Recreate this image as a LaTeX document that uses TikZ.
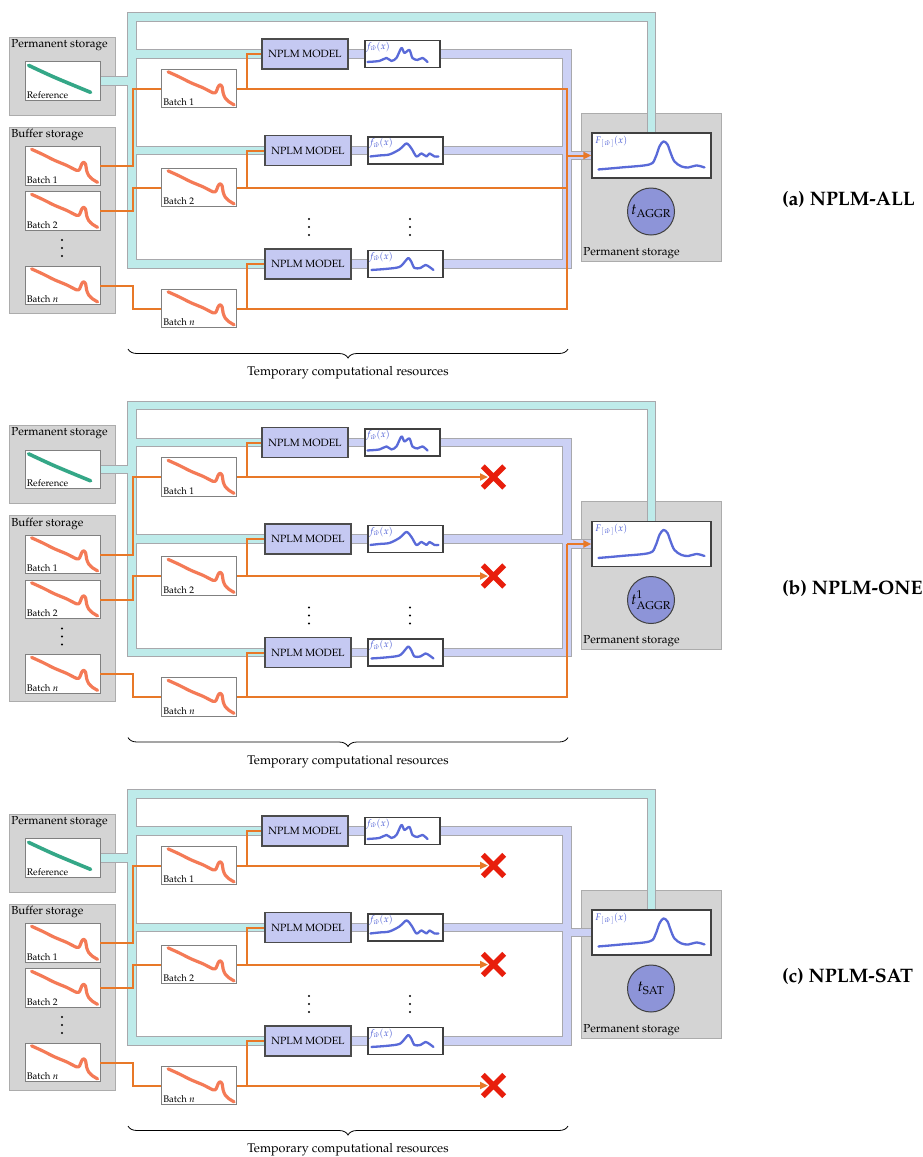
\documentclass[tikz,border=0pt]{standalone}
\usepackage[T1]{fontenc}
\usepackage{mathpazo}
\usetikzlibrary{arrows.meta,decorations.pathreplacing}
\pgfdeclarelayer{lstore}\pgfdeclarelayer{ledge}\pgfdeclarelayer{lfill}
\pgfsetlayers{lstore,ledge,lfill,main}

\definecolor{storegray}{RGB}{212,212,212}
\definecolor{storeline}{RGB}{172,172,172}
\definecolor{cyanp}{RGB}{190,235,234}
\definecolor{lavp}{RGB}{204,209,245}
\definecolor{pipeedge}{RGB}{168,168,172}
\definecolor{modelc}{RGB}{197,201,242}
\definecolor{circc}{RGB}{141,148,216}
\definecolor{orangel}{RGB}{232,120,40}
\definecolor{batchc}{RGB}{243,108,68}
\definecolor{refc}{RGB}{30,158,122}
\definecolor{fcurve}{RGB}{72,90,212}
\definecolor{xred}{RGB}{232,30,12}

\tikzset{
  stbox/.style={draw=storeline, fill=storegray, line width=0.8pt, inner sep=0, rectangle},
  wbox/.style={draw=black!50, fill=white, line width=0.8pt, minimum width=75pt, minimum height=38.5pt, inner sep=0},
  modelbox/.style={draw=black!70, fill=modelc, line width=1.1pt, minimum width=86pt, minimum height=30pt, inner sep=0, font=\fontsize{10.5}{12}\selectfont},
  fwbox/.style={draw=black!75, fill=white, line width=1.1pt, minimum width=75pt, minimum height=27pt, inner sep=0},
  bigfbox/.style={draw=black!75, fill=white, line width=1.1pt, minimum width=119pt, minimum height=45pt, inner sep=0},
  slbl/.style={inner sep=2.5pt, font=\fontsize{11.6}{13}\selectfont},
  brlbl/.style={inner sep=2pt, font=\fontsize{12.6}{14}\selectfont},
  blbl/.style={inner sep=2pt, font=\fontsize{9.6}{11}\selectfont},
  flbl/.style={inner sep=1.5pt, text=fcurve, font=\fontsize{9.5}{11}\selectfont},
  dotc/.style={circle, fill=black, inner sep=0, minimum size=2.4pt},
  titlelbl/.style={inner sep=0, anchor=west, font=\fontsize{19.5}{22}\selectfont\bfseries},
  pedge/.style={draw=pipeedge, line width=9.5pt},
  pcyan/.style={draw=cyanp, line width=7.5pt},
  plav/.style={draw=lavp, line width=7.5pt},
  oline/.style={draw=orangel, line width=2pt},
  oarrow/.style={draw=orangel, line width=2pt, -{Triangle[length=8pt,width=7pt]}},
  xmarkbox/.style={minimum size=21pt, inner sep=0},
  xline/.style={draw=xred, line width=5.5pt},
  bcurve/.style={draw=batchc, line width=3.2pt, line cap=round, line join=round, opacity=0.9},
  rcurve/.style={draw=refc, line width=3.6pt, line cap=round, opacity=0.9},
  fcurvest/.style={draw=fcurve, line width=2.3pt, line cap=round, line join=round, opacity=0.9},
  circnode/.style={circle, draw=black!75, fill=circc, line width=1pt, minimum size=47pt, inner sep=0, font=\fontsize{15}{18}\selectfont},
}

\newcommand\BatchCurve[1]{%
  \draw[bcurve, shift={(#1.north west)}] plot[smooth, tension=0.5] coordinates
  {(7,3) (18,8) (30,14) (42,19) (52,24) (55,23) (57,18) (59,16) (61,18) (62,24) (64,29) (68,33) (73,36)};}

\newcommand\VDots[3]{%
  \node[dotc] (#1a) at (#2,#3) {};
  \node[dotc] (#1b) at (#2,#3+8) {};
  \node[dotc] (#1c) at (#2,#3+16) {};}

\newcommand\PanelDraw[5]{%
\begin{scope}[shift={(0,#2)}]
  % storage areas
  \begin{pgfonlayer}{lstore}
    \node[stbox, minimum width=106pt, minimum height=78pt] (#1-ps) at (62,76) {};
    \node[stbox, minimum width=106pt, minimum height=186pt] (#1-bs) at (62,220) {};
    \node[stbox, minimum width=140pt, minimum height=148pt] (#1-rs) at (651,187) {};
  \end{pgfonlayer}
  \node[slbl, anchor=north west] (#1-pst) at (#1-ps.north west) {Permanent storage};
  \node[slbl, anchor=north west] (#1-bst) at (#1-bs.north west) {Buffer storage};
  \node[slbl, anchor=south west] (#1-rst) at (#1-rs.south west) {Permanent storage};
  % boxes
  \node[wbox] (#1-ref) at (62.5,81) {};
  \node[wbox] (#1-b1) at (62.5,166) {};
  \node[wbox] (#1-b2) at (62.5,211) {};
  \node[wbox] (#1-bn) at (62.5,285.5) {};
  \VDots{#1-bd}{62}{240}
  \node[wbox] (#1-t1) at (199,88.5) {};
  \node[wbox] (#1-t2) at (199,187.5) {};
  \node[wbox] (#1-tn) at (199,308.5) {};
  \node[modelbox] (#1-m1) at (305,54) {NPLM MODEL};
  \node[modelbox] (#1-m2) at (308,150.5) {NPLM MODEL};
  \node[modelbox] (#1-m3) at (308,264) {NPLM MODEL};
  \VDots{#1-md}{309}{219}
  \node[fwbox] (#1-f1) at (402.5,54) {};
  \node[fwbox] (#1-f2) at (405.5,150.5) {};
  \node[fwbox] (#1-f3) at (405.5,264) {};
  \VDots{#1-fd}{410}{219}
  \node[bigfbox] (#1-F) at (651.5,155.5) {};
  \node[circnode] (#1-tc) at (651,211.5) {#4};
  % box contents
  \draw[rcurve, shift={(#1-ref.north west)}] plot[smooth] coordinates {(4,4) (30,16) (66,31)};
  \node[blbl, anchor=south west] (#1-reft) at (#1-ref.south west) {Reference};
  \BatchCurve{#1-b1}\BatchCurve{#1-b2}\BatchCurve{#1-bn}
  \BatchCurve{#1-t1}\BatchCurve{#1-t2}\BatchCurve{#1-tn}
  \node[blbl, anchor=south west] (#1-b1t) at (#1-b1.south west) {Batch 1};
  \node[blbl, anchor=south west] (#1-b2t) at (#1-b2.south west) {Batch 2};
  \node[blbl, anchor=south west] (#1-bnt) at (#1-bn.south west) {Batch $n$};
  \node[blbl, anchor=south west] (#1-t1t) at (#1-t1.south west) {Batch 1};
  \node[blbl, anchor=south west] (#1-t2t) at (#1-t2.south west) {Batch 2};
  \node[blbl, anchor=south west] (#1-tnt) at (#1-tn.south west) {Batch $n$};
  \draw[fcurvest, shift={(#1-f1.north west)}] plot[smooth, tension=0.5] coordinates
    {(3,22) (15,21) (22,18) (27,21) (32,18) (37,8) (40,13) (45,10) (48,18) (53,20) (58,18) (63,22)};
  \draw[fcurvest, shift={(#1-f2.north west)}] plot[smooth, tension=0.5] coordinates
    {(3,20) (12,19) (22,18) (32,13) (39,7) (44,12) (49,20) (54,17) (59,20) (62,17) (67,20) (71,20)};
  \draw[fcurvest, shift={(#1-f3.north west)}] plot[smooth, tension=0.5] coordinates
    {(4,20) (18,19) (32,17) (38,11) (41,8) (44,12) (47,18) (53,18) (58,15) (62,17) (66,20)};
  \node[flbl, anchor=north west] (#1-f1t) at (#1-f1.north west) {$f_{\hat w}(x)$};
  \node[flbl, anchor=north west] (#1-f2t) at (#1-f2.north west) {$f_{\hat w}(x)$};
  \node[flbl, anchor=north west] (#1-f3t) at (#1-f3.north west) {$f_{\hat w}(x)$};
  \draw[fcurvest, shift={(#1-F.north west)}] plot[smooth, tension=0.55] coordinates
    {(7,37) (30,35) (58,32) (64,25) (68,14) (72,9) (76,12) (79,20) (83,29) (90,34) (97,35) (105,33) (113,35)};
  \node[flbl, anchor=north west] (#1-Ft) at ([shift={(2,1.5)}]#1-F.north west) {$F_{\,[\,\hat w\,]}(x)$};
  % pipes
  \begin{pgfonlayer}{ledge}
    \draw[pedge] (#1-ref.east) -- (132,81);
    \draw[pedge, line join=miter] (#1-F.north) |- (132,17) -- (132,264) -- (#1-m3.west);
    \draw[pedge] (132,54) -- (#1-m1.west);
    \draw[pedge] (132,150.5) -- (#1-m2.west);
    \draw[pedge] (#1-m1.east) -- (#1-f1.west);
    \draw[pedge] (#1-m2.east) -- (#1-f2.west);
    \draw[pedge] (#1-m3.east) -- (#1-f3.west);
    \draw[pedge, line join=miter] (#1-f1.east) -- (567,54) -- (567,264) -- (#1-f3.east);
    \draw[pedge] (#1-f2.east) -- (567,150.5);
    \draw[pedge] (567,155.5) -- (#1-F.west);
  \end{pgfonlayer}
  \begin{pgfonlayer}{lfill}
    \draw[pcyan] (#1-ref.east) -- (132,81);
    \draw[pcyan, line join=miter] (#1-F.north) |- (132,17) -- (132,264) -- (#1-m3.west);
    \draw[pcyan] (132,54) -- (#1-m1.west);
    \draw[pcyan] (132,150.5) -- (#1-m2.west);
    \draw[plav] (#1-m1.east) -- (#1-f1.west);
    \draw[plav] (#1-m2.east) -- (#1-f2.west);
    \draw[plav] (#1-m3.east) -- (#1-f3.west);
    \draw[plav, line join=miter] (#1-f1.east) -- (567,54) -- (567,264) -- (#1-f3.east);
    \draw[plav] (#1-f2.east) -- (567,150.5);
    \draw[plav] (567,155.5) -- (#1-F.west);
  \end{pgfonlayer}
  % orange data lines
  \draw[oline] (#1-b1.east) -- (133,166) |- (#1-t1.west);
  \draw[oline] (#1-b2.east) -- (133,211) |- (#1-t2.west);
  \draw[oline] (#1-bn.east) -- (133,285.5) |- (#1-tn.west);
  \draw[oline] (247,88.5) |- (#1-m1.west);
  \draw[oline] (247,187.5) |- (#1-m2.west);
  \draw[oline] (247,308.5) |- (#1-m3.west);
  \ifcase#3
    \draw[oline] (#1-t1.east) -- (567,88.5) -- (567,308.5) -- (#1-tn.east);
    \draw[oline] (#1-t2.east) -- (567,187.5);
    \draw[oarrow] (567,155.5) -- (#1-F.west);
  \or
    \node[xmarkbox] (#1-x1) at (493.5,88.5) {};
    \node[xmarkbox] (#1-x2) at (493.5,187.5) {};
    \draw[oarrow] (#1-t1.east) -- (488,88.5);
    \draw[oarrow] (#1-t2.east) -- (488,187.5);
    \draw[oline] (#1-tn.east) -- (567,308.5) -- (567,155.5);
    \draw[oarrow] (567,155.5) -- (#1-F.west);
    \draw[xline] (#1-x1.north west) -- (#1-x1.south east) (#1-x1.south west) -- (#1-x1.north east);
    \draw[xline] (#1-x2.north west) -- (#1-x2.south east) (#1-x2.south west) -- (#1-x2.north east);
  \or
    \node[xmarkbox] (#1-x1) at (493.5,88.5) {};
    \node[xmarkbox] (#1-x2) at (493.5,187.5) {};
    \node[xmarkbox] (#1-x3) at (493.5,308.5) {};
    \draw[oarrow] (#1-t1.east) -- (488,88.5);
    \draw[oarrow] (#1-t2.east) -- (488,187.5);
    \draw[oarrow] (#1-tn.east) -- (488,308.5);
    \draw[xline] (#1-x1.north west) -- (#1-x1.south east) (#1-x1.south west) -- (#1-x1.north east);
    \draw[xline] (#1-x2.north west) -- (#1-x2.south east) (#1-x2.south west) -- (#1-x2.north east);
    \draw[xline] (#1-x3.north west) -- (#1-x3.south east) (#1-x3.south west) -- (#1-x3.north east);
  \fi
  % brace and titles
  \coordinate (#1-bl) at (128,349);
  \coordinate (#1-br) at (568,349);
  \draw[decorate, decoration={brace, amplitude=9pt, mirror}, line width=0.8pt] (#1-bl) -- (#1-br);
  \node[brlbl] (#1-brt) at (348,373) {Temporary computational resources};
  \node[titlelbl] (#1-title) at (782,200) {#5};
\end{scope}}

\begin{document}
\begin{tikzpicture}[x=1pt,y=-1pt]
\begin{pgfonlayer}{lstore}
\fill[white] (0,0) rectangle (922,1157);
\end{pgfonlayer}
\useasboundingbox (0,0) rectangle (922,1157);
\PanelDraw{a}{0}{0}{$t_{\mathrm{AGGR}}$}{(a) NPLM-ALL}
\PanelDraw{b}{388.5}{1}{$t^{1}_{\mathrm{AGGR}}$}{(b) NPLM-ONE}
\PanelDraw{c}{777}{2}{$t_{\mathrm{SAT}}$}{(c) NPLM-SAT}
\end{tikzpicture}
\end{document}
